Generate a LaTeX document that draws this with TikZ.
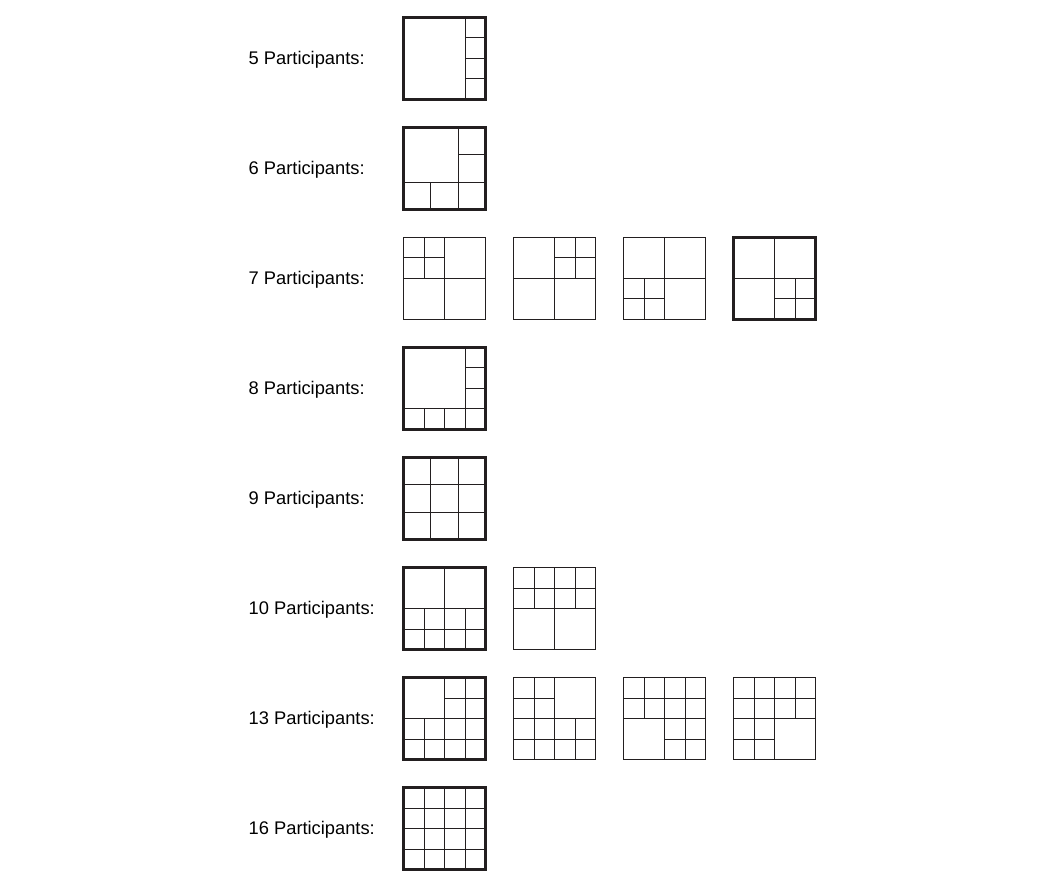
\documentclass[tikz,border=0pt]{standalone}
\usepackage{fontspec}
\setmainfont{Liberation Sans}
\definecolor{ink}{RGB}{35,31,32}
\tikzset{
  cell/.style={draw=ink, line width=1pt},
  frame/.style={draw=ink, line width=3pt},
  lab/.style={inner sep=0pt, anchor=base west, text=black, font=\fontsize{18.3}{22}\selectfont},
}
% #1 column, #2 row, #3 cells per side, #4 cells x/y/w/h, #5 outer edge
\newcommand{\tiles}[5]{%
  \pgfmathsetmacro\tilesize{82/#3}%
  \begin{scope}[shift={(403.5pt+110pt*#1,-17.5pt-110pt*#2)}, x=\tilesize pt, y=-\tilesize pt]
    \foreach \x/\y/\w/\h in {#4}
      \draw[cell] (\x,\y) rectangle ++(\w,\h);
    \draw[#5] (0,0) rectangle (#3,#3);
  \end{scope}}
\begin{document}
\begin{tikzpicture}[x=1pt,y=1pt]
  \useasboundingbox (0,0) rectangle (1061,-885);
  \foreach \n [count=\r from 0] in {5,6,7,8,9,10,13,16}
    \node[lab] (lab\n) at (248.5,{-64.5-110*\r}) {{\n} Participants:};

  % 5
  \tiles{0}{0}{4}{0/0/3/4,3/0/1/1,3/1/1/1,3/2/1/1,3/3/1/1}{frame}
  % 6
  \tiles{0}{1}{3}{0/0/2/2,2/0/1/1,2/1/1/1,0/2/1/1,1/2/1/1,2/2/1/1}{frame}
  % 7
  \tiles{0}{2}{4}{0/0/1/1,1/0/1/1,0/1/1/1,1/1/1/1,2/0/2/2,0/2/2/2,2/2/2/2}{cell}
  \tiles{1}{2}{4}{0/0/2/2,2/0/1/1,3/0/1/1,2/1/1/1,3/1/1/1,0/2/2/2,2/2/2/2}{cell}
  \tiles{2}{2}{4}{0/0/2/2,2/0/2/2,0/2/1/1,1/2/1/1,0/3/1/1,1/3/1/1,2/2/2/2}{cell}
  \tiles{3}{2}{4}{0/0/2/2,2/0/2/2,0/2/2/2,2/2/1/1,3/2/1/1,2/3/1/1,3/3/1/1}{frame}
  % 8
  \tiles{0}{3}{4}{0/0/3/3,3/0/1/1,3/1/1/1,3/2/1/1,0/3/1/1,1/3/1/1,2/3/1/1,3/3/1/1}{frame}
  % 9
  \tiles{0}{4}{3}{0/0/1/1,1/0/1/1,2/0/1/1,0/1/1/1,1/1/1/1,2/1/1/1,0/2/1/1,1/2/1/1,2/2/1/1}{frame}
  % 10
  \tiles{0}{5}{4}{0/0/2/2,2/0/2/2,0/2/1/1,1/2/1/1,2/2/1/1,3/2/1/1,0/3/1/1,1/3/1/1,2/3/1/1,3/3/1/1}{frame}
  \tiles{1}{5}{4}{0/0/1/1,1/0/1/1,2/0/1/1,3/0/1/1,0/1/1/1,1/1/1/1,2/1/1/1,3/1/1/1,0/2/2/2,2/2/2/2}{cell}
  % 13
  \tiles{0}{6}{4}{0/0/2/2,2/0/1/1,3/0/1/1,2/1/1/1,3/1/1/1,0/2/1/1,1/2/1/1,2/2/1/1,3/2/1/1,0/3/1/1,1/3/1/1,2/3/1/1,3/3/1/1}{frame}
  \tiles{1}{6}{4}{0/0/1/1,1/0/1/1,0/1/1/1,1/1/1/1,2/0/2/2,0/2/1/1,1/2/1/1,2/2/1/1,3/2/1/1,0/3/1/1,1/3/1/1,2/3/1/1,3/3/1/1}{cell}
  \tiles{2}{6}{4}{0/0/1/1,1/0/1/1,2/0/1/1,3/0/1/1,0/1/1/1,1/1/1/1,2/1/1/1,3/1/1/1,0/2/2/2,2/2/1/1,3/2/1/1,2/3/1/1,3/3/1/1}{cell}
  \tiles{3}{6}{4}{0/0/1/1,1/0/1/1,2/0/1/1,3/0/1/1,0/1/1/1,1/1/1/1,2/1/1/1,3/1/1/1,0/2/1/1,1/2/1/1,0/3/1/1,1/3/1/1,2/2/2/2}{cell}
  % 16
  \tiles{0}{7}{4}{0/0/1/1,1/0/1/1,2/0/1/1,3/0/1/1,0/1/1/1,1/1/1/1,2/1/1/1,3/1/1/1,0/2/1/1,1/2/1/1,2/2/1/1,3/2/1/1,0/3/1/1,1/3/1/1,2/3/1/1,3/3/1/1}{frame}
\end{tikzpicture}
\end{document}
